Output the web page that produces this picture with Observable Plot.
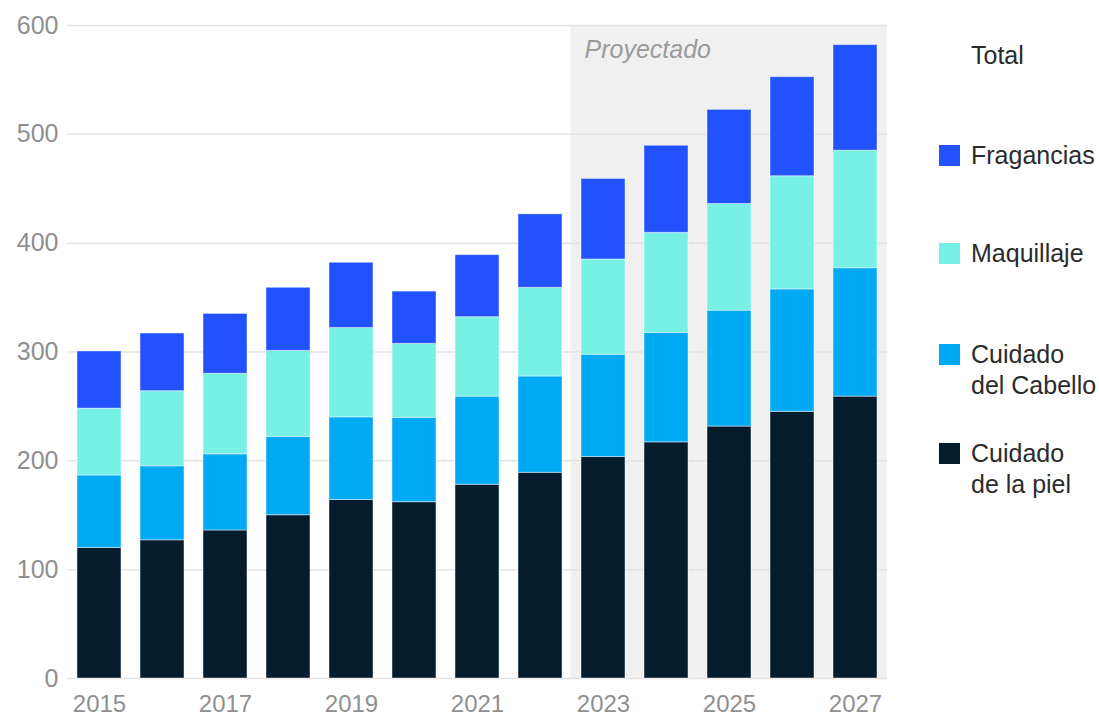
<!DOCTYPE html>
<html>
<head>
<meta charset="utf-8">
<script src="https://cdn.jsdelivr.net/npm/d3@7"></script>
<script src="https://cdn.jsdelivr.net/npm/@observablehq/plot@0.6"></script>
<style>
  html, body { margin: 0; padding: 0; background: #fff; }
  #wrap { position: relative; width: 1099px; height: 717px; font-family: "Liberation Sans", Arial, sans-serif; }
  #chart { position: absolute; left: 0; top: 0; }
  .lg { position: absolute; left: 971px; font-size: 25px; line-height: 31px; color: #2b2b2b; white-space: nowrap; }
  .sw { position: absolute; left: 939px; width: 21px; height: 21px; }
</style>
</head>
<body>
<div id="wrap"><div id="chart"></div><div id="legend"></div></div>
<script>
const years = [2015, 2016, 2017, 2018, 2019, 2020, 2021, 2022, 2023, 2024, 2025, 2026, 2027];
const categories = ["Cuidado de la piel", "Cuidado del Cabello", "Maquillaje", "Fragancias"];
const colors = ["#051c2c", "#00a9f4", "#77f0e5", "#2251ff"];
const cuidadoPiel   = [120, 127, 136, 150, 164, 162, 178, 189, 203.5, 217, 231.5, 245, 259];
const cuidadoCabello = [66.5, 68, 70, 72, 76, 77.5, 81, 88.5, 94, 100.5, 106.5, 112.5, 118];
const maquillaje    = [61.5, 69, 74, 79, 82, 68, 73, 81.5, 87.5, 92, 98, 104, 108];
const fragancias    = [52.5, 53, 55, 58, 60, 48, 57, 67.5, 74, 80, 86.5, 91, 97];
const projectedYears = [2023, 2024, 2025, 2026, 2027];
const labeledYears = [2015, 2017, 2019, 2021, 2023, 2025, 2027];
const yTicks = [0, 100, 200, 300, 400, 500, 600];
const projectedLabel = "Proyectado";
const legendTitle = "Total";
const legendLabels = ["Fragancias", "Maquillaje", "Cuidado<br>del Cabello", "Cuidado<br>de la piel"];

const seriesValues = [cuidadoPiel, cuidadoCabello, maquillaje, fragancias];
const rows = [];
categories.forEach((c, i) => years.forEach((yr, j) => rows.push({year: yr, category: c, value: seriesValues[i][j]})));

const chart = Plot.plot({
  width: 1099,
  height: 717,
  marginLeft: 67,
  marginRight: 212,
  marginTop: 25,
  marginBottom: 39,
  style: {fontFamily: "'Liberation Sans', Arial, sans-serif", fontSize: "25px", background: "transparent"},
  x: {type: "band", domain: years, paddingInner: 0.3, paddingOuter: 0.15},
  y: {domain: [0, 600]},
  color: {domain: categories, range: colors},
  marks: [
    Plot.barY(projectedYears, {x: d => d, y: 600, fill: "#f0f0f0", insetLeft: -10.5, insetRight: -9.5}),
    Plot.ruleY(yTicks, {stroke: "#e3e3e3", strokeWidth: 1.5}),
    Plot.barY(rows, {x: "year", y: "value", fill: "category", order: categories, stroke: "#ffffff", strokeOpacity: 0.45, strokeWidth: 1}),
    Plot.axisY({ticks: yTicks, tickSize: 0, tickPadding: 9, fill: "#8f8f8f", fontSize: 25, label: null}),
    Plot.axisX({ticks: labeledYears, tickFormat: d => String(d), tickSize: 0, tickPadding: 16, fill: "#8f8f8f", fontSize: 24, label: null}),
    Plot.text([projectedLabel], {x: () => 2023, y: 600, text: d => d, dx: -19, dy: 24, textAnchor: "start", fill: "#9a9a9a", fontStyle: "italic", fontSize: 25})
  ]
});
document.getElementById("chart").appendChild(chart);

const legend = document.getElementById("legend");
const t = document.createElement("div");
t.className = "lg"; t.style.top = "40px"; t.innerHTML = legendTitle;
legend.appendChild(t);
const legendTops = [140, 238, 339, 438];
const legendColors = [colors[3], colors[2], colors[1], colors[0]];
legendLabels.forEach((lab, i) => {
  const sw = document.createElement("div");
  sw.className = "sw"; sw.style.top = (legendTops[i] + 5) + "px"; sw.style.background = legendColors[i];
  legend.appendChild(sw);
  const d = document.createElement("div");
  d.className = "lg"; d.style.top = legendTops[i] + "px"; d.innerHTML = lab;
  legend.appendChild(d);
});
</script>
</body>
</html>
